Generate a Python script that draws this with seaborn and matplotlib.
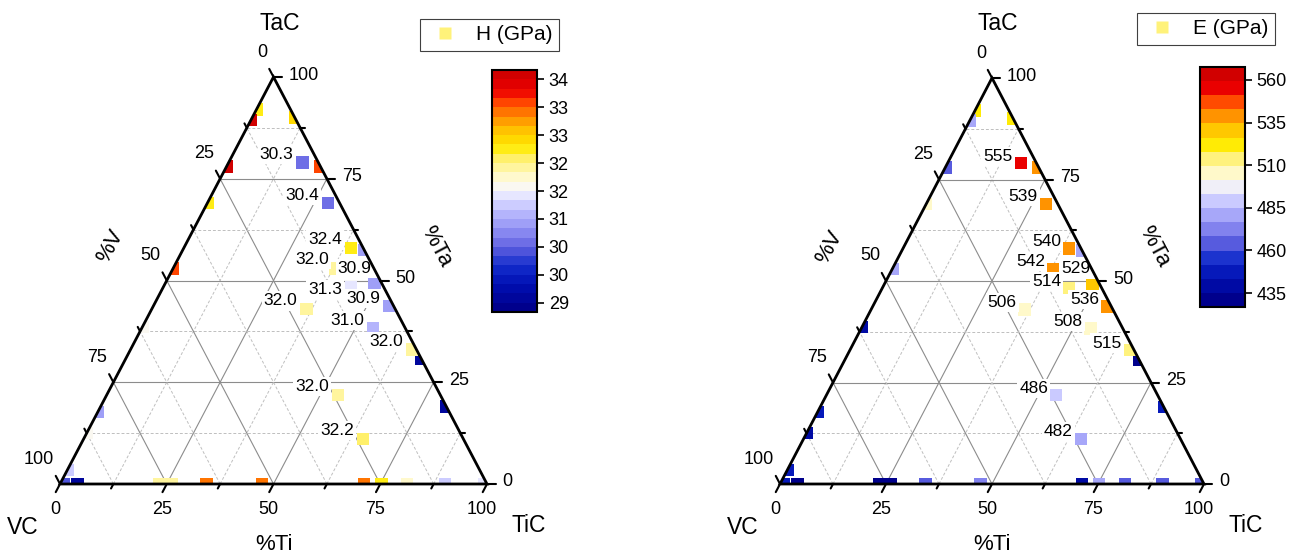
import numpy as np
import matplotlib
matplotlib.use('Agg')
import matplotlib.pyplot as plt
import seaborn as sns
from matplotlib.colors import LinearSegmentedColormap, Normalize
from matplotlib.patches import Polygon
from matplotlib.lines import Line2D
from matplotlib.cm import ScalarMappable

sns.set_style('white')
plt.rcParams['font.family'] = ['Liberation Sans', 'DejaVu Sans']
plt.rcParams['text.color'] = 'black'

# puntos con etiqueta: %Ti y %Ta (el %V es lo que falta hasta 100)
lab_ti = [17.3, 28.2, 39.2, 37.9, 49.2, 44.0, 55.3, 36.2, 54.1, 66.0, 54.2, 65.4]
lab_ta = [79.0, 69.0, 58.0, 53.0, 49.0, 48.3, 43.7, 43.0, 38.3, 33.0, 21.9, 11.1]
lab_h = [30.3, 30.4, 32.4, 32.0, 30.9, 31.3, 30.9, 32.0, 31.0, 32.0, 32.0, 32.2]
lab_e = [555, 539, 540, 542, 529, 514, 536, 506, 508, 515, 486, 482]

# puntos sobre los bordes (sin etiqueta): borde VC-TaC, borde TaC-TiC, borde VC-TiC
borde_ti = [0, 0, 0, 0, 0, 0, 0, 0, 0,
            10, 22, 42.5, 69.3, 81,
            1, 4.1, 23.3, 26.2, 34.3, 47.3, 71.2, 75.3, 81.3, 90.2, 99.4]
borde_ta = [92, 89.5, 78, 69, 53, 38.6, 17.7, 12.5, 3.5,
            90, 78, 57.5, 30.7, 19,
            0, 0, 0, 0, 0, 0, 0, 0, 0, 0, 0]
borde_h = [32.5, 34.0, 34.0, 32.4, 33.4, 31.7, 30.9, 31.7, 31.2,
           32.6, 33.5, 30.9, 29.1, 29.2,
           30.1, 29.1, 32.0, 32.0, 33.1, 33.1, 33.1, 32.5, 31.9, 31.1, 31.3]
borde_e = [525, 482, 462, 507, 480, 440, 445, 440, 446,
           521, 540, 478, 434, 448,
           448, 432, 432, 434, 462, 470, 438, 482, 468, 468, 463]

ejes_ticks = [0, 25, 50, 75, 100]

# escalas de color
h_rango = (28.9, 34.1)
h_ticks = [29.1, 29.7, 30.3, 30.9, 31.5, 32.1, 32.7, 33.3, 33.9]
h_ticklabels = ['29', '30', '30', '31', '32', '32', '33', '33', '34']
e_rango = (426.8, 567.6)
e_ticks = [435, 460, 485, 510, 535, 560]

paradas = [(0.0, (0.0, 0.0, 0.55)), (0.1, (0.0, 0.06, 0.7)), (0.18, (0.08, 0.18, 0.8)),
           (0.26, (0.38, 0.38, 0.88)), (0.34, (0.58, 0.58, 0.96)), (0.42, (0.75, 0.75, 1.0)),
           (0.48, (0.9, 0.9, 1.0)), (0.53, (1.0, 0.99, 0.93)), (0.58, (1.0, 0.97, 0.72)),
           (0.64, (1.0, 0.94, 0.42)), (0.69, (1.0, 0.92, 0.0)), (0.76, (1.0, 0.76, 0.0)),
           (0.82, (1.0, 0.55, 0.0)), (0.88, (1.0, 0.27, 0.0)), (0.93, (0.93, 0.0, 0.0)),
           (1.0, (0.82, 0.0, 0.0))]
cmap_h = LinearSegmentedColormap.from_list('h', paradas, N=26)
cmap_e = LinearSegmentedColormap.from_list('e', paradas, N=17)
norm_h = Normalize(*h_rango)
norm_e = Normalize(*e_rango)


def cart(ti, ta):
    ti = np.asarray(ti, dtype=float)
    ta = np.asarray(ta, dtype=float)
    return ti + ta / 2, ta


def texto(ax, s, xy, dx, dy, **kw):
    # dx, dy en pixeles (dy hacia arriba)
    ax.annotate(s, xy=xy, xytext=(dx, dy), textcoords='offset pixels',
                annotation_clip=False, **kw)


def dibujar(ax, valores_lab, valores_borde, cmap, norm, fmt, defecto, especiales):
    ax.set_xlim(0, 100)
    ax.set_ylim(0, 100)
    ax.axis('off')

    # rejilla
    for k in np.arange(12.5, 100, 12.5):
        if k % 25 == 0:
            kw = dict(color='0.55', lw=0.8, ls='-')
        else:
            kw = dict(color='0.75', lw=0.7, ls=(0, (3, 2)))
        ax.plot([k / 2, 100 - k / 2], [k, k], zorder=1, **kw)
        ax.plot([k, (100 + k) / 2], [0, 100 - k], zorder=1, **kw)
        ax.plot([100 - k, (100 - k) / 2], [0, 100 - k], zorder=1, **kw)

    # puntos
    x, y = cart(list(borde_ti) + list(lab_ti), list(borde_ta) + list(lab_ta))
    sns.scatterplot(x=x, y=y, hue=list(valores_borde) + list(valores_lab),
                    palette=cmap, hue_norm=norm, marker='s', s=80, linewidth=0,
                    legend=False, ax=ax, zorder=3)
    recorte = Polygon([[0, 0], [100, 0], [50, 100]], closed=True, transform=ax.transData)
    ax.collections[-1].set_clip_path(recorte)

    # borde del triangulo
    ax.add_patch(Polygon([[0, 0], [100, 0], [50, 100]], closed=True, fill=False,
                         ec='black', lw=2, zorder=6, joinstyle='miter', clip_on=False))

    # marcas de los ejes
    for k in np.arange(0, 100.1, 12.5):
        t = 2.0 if k % 25 == 0 else 1.1
        ax.plot([k, k - t / 2], [0, -t], color='black', lw=1.5, clip_on=False, zorder=6)
        ax.plot([100 - k / 2, 100 - k / 2 + t], [k, k], color='black', lw=1.5,
                clip_on=False, zorder=6)
        ax.plot([(100 - k) / 2, (100 - k) / 2 - t / 2], [100 - k, 100 - k + t],
                color='black', lw=1.5, clip_on=False, zorder=6)
    for k in ejes_ticks:
        texto(ax, str(k), (k, 0), -5, -25, ha='center', va='center', fontsize=13)
        texto(ax, str(k), (100 - k / 2, k), 15, 2, ha='left', va='center', fontsize=13)
        texto(ax, str(k), ((100 - k) / 2, 100 - k), -6, 25, ha='right', va='center', fontsize=13)

    # vertices y titulos
    texto(ax, 'TaC', (50, 100), 6, 54, ha='center', va='center', fontsize=16.5)
    texto(ax, 'VC', (0, 0), -37, -44, ha='center', va='center', fontsize=16.5)
    texto(ax, 'TiC', (100, 0), 42, -42, ha='center', va='center', fontsize=16.5)
    texto(ax, '%Ti', (50, 0), 0, -60, ha='center', va='center', fontsize=16)
    texto(ax, '%V', (25, 50), -56, 34, ha='center', va='center', fontsize=16, rotation=62)
    texto(ax, '%Ta', (75, 50), 56, 34, ha='center', va='center', fontsize=16, rotation=-62)

    # etiquetas de los valores
    lx, ly = cart(lab_ti, lab_ta)
    for i, v in enumerate(valores_lab):
        dx, dy = especiales.get(i, defecto)
        texto(ax, fmt.format(v), (lx[i], ly[i]), dx, -dy + 2, ha='right', va='center',
              fontsize=12.5, zorder=4,
              bbox=dict(boxstyle='square,pad=0.12', fc='white', ec='none'))


def barra(fig, rect, cmap, norm, ticks, etiquetas=None):
    cax = fig.add_axes(rect)
    cb = fig.colorbar(ScalarMappable(norm=norm, cmap=cmap), cax=cax, ticks=ticks)
    cb.outline.set_linewidth(1.5)
    cb.outline.set_edgecolor('black')
    cb.ax.tick_params(labelsize=13, length=5, width=1.2, color='black',
                      labelcolor='black', direction='out', right=True, left=False)
    if etiquetas is not None:
        cb.ax.set_yticklabels(etiquetas)
    return cb


def leyenda(fig, texto_ley, centro):
    h = Line2D([], [], ls='none', marker='s', markersize=8, markerfacecolor='#fff27a',
               markeredgecolor='none', label=texto_ley)
    ley = fig.legend(handles=[h], loc='center', bbox_to_anchor=centro, fontsize=15,
                     frameon=True, fancybox=False, framealpha=1, edgecolor='0.25',
                     handlelength=1.8, handletextpad=0.6, borderpad=0.3)
    ley.get_frame().set_linewidth(0.8)


W, H = 1300, 560
fig = plt.figure(figsize=(13, 5.6), dpi=100)
fig.patch.set_facecolor('white')

ax1 = fig.add_axes([60 / W, 76 / H, 427 / W, 407 / H])
dibujar(ax1, lab_h, borde_h, cmap_h, norm_h, '{:.1f}', (-9, -6),
        {3: (-6, -7), 4: (-3, -14), 5: (-9, 4)})
barra(fig, [492 / W, 248 / H, 45 / W, 242 / H], cmap_h, norm_h, h_ticks, h_ticklabels)
leyenda(fig, 'H (GPa)', (489 / W, 1 - 35 / H))

ax2 = fig.add_axes([780 / W, 76 / H, 424 / W, 406 / H])
dibujar(ax2, lab_e, borde_e, cmap_e, norm_e, '{:.0f}', (-8, -5),
        {4: (-2, -15), 5: (-8, -4)})
barra(fig, [1200 / W, 253 / H, 45 / W, 240 / H], cmap_e, norm_e, e_ticks)
leyenda(fig, 'E (GPa)', (1206 / W, 1 - 29 / H))

fig.savefig('out.png', dpi=100, facecolor='white')
